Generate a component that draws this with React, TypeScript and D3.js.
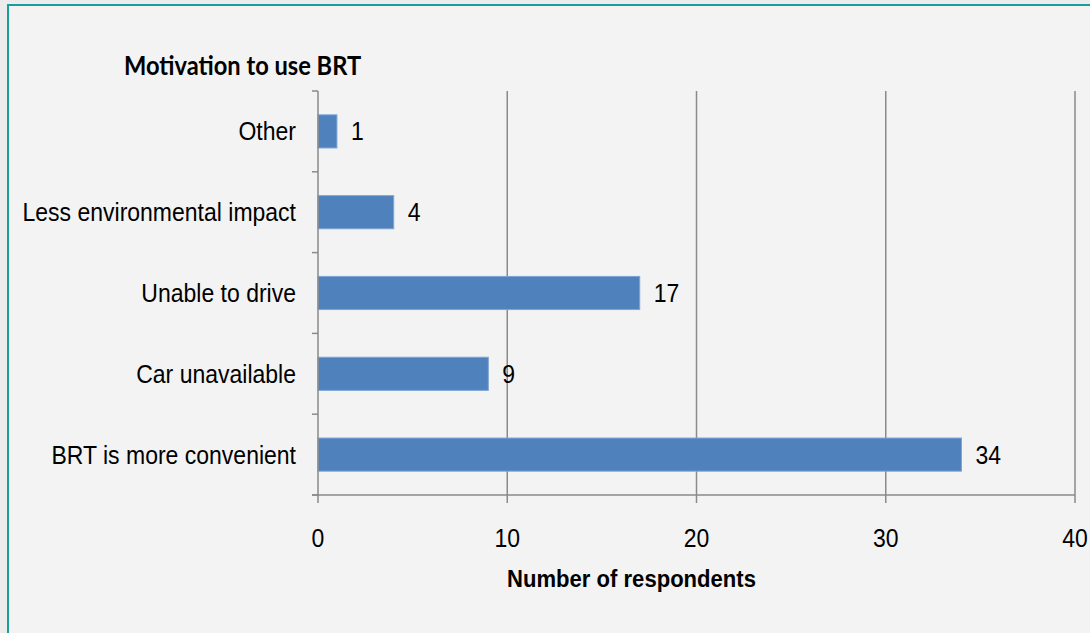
import React from "react";
import * as d3 from "d3";

const categories = ["Other", "Less environmental impact", "Unable to drive", "Car unavailable", "BRT is more convenient"];
const values = [1, 4, 17, 9, 34];
const xTicks = [0, 10, 20, 30, 40];
const chartTitle = "Motivation to use BRT";
const xTitle = "Number of respondents";

const W = 1090;
const H = 633;
const M = { left: 318, right: 1075, top: 91, bottom: 495 };

export default function App() {
  const x = d3.scaleLinear().domain([0, 40]).range([M.left, M.right]);
  const y = d3.scaleBand<string>().domain(categories).range([M.top, M.bottom]).paddingInner(0.59).paddingOuter(0.295);
  const band = (M.bottom - M.top) / categories.length;
  const boundaries = d3.range(categories.length + 1).map((i) => M.top + i * band);
  const axisColor = "#8a8a8a";
  const sx = 0.92;
  const fs = 25;
  const fontA = "'Liberation Sans', Arial, sans-serif";

  return (
    <svg width={W} height={H} style={{ position: "absolute", left: 0, top: 0, background: "#f3f3f3" }}>
      <rect x={0} y={0} width={W} height={5} fill="#ececec" />
      <rect x={0} y={0} width={7} height={H} fill="#ececec" />
      <line x1={7} x2={W} y1={5} y2={5} stroke="#1a9e9a" strokeWidth={2} />
      <line x1={8} x2={8} y1={5} y2={H} stroke="#1a9e9a" strokeWidth={2} />

      {/* gridlines */}
      {xTicks.slice(1).map((t) => (
        <line key={"g" + t} x1={x(t)} x2={x(t)} y1={M.top} y2={M.bottom} stroke={axisColor} strokeWidth={1.5} />
      ))}

      {/* bars */}
      {categories.map((c, i) => (
        <rect
          key={c}
          x={x(0)}
          y={y(c)}
          width={x(values[i]) - x(0)}
          height={y.bandwidth()}
          fill="#4f81bd"
          stroke="#7ea5d4"
          strokeWidth={1}
        />
      ))}

      {/* y axis */}
      <line x1={M.left} x2={M.left} y1={M.top} y2={M.bottom} stroke={axisColor} strokeWidth={1.5} />
      {boundaries.map((b, i) => (
        <line key={"yt" + i} x1={M.left - 6} x2={M.left} y1={b} y2={b} stroke={axisColor} strokeWidth={1.5} />
      ))}
      {/* x axis */}
      <line x1={M.left - 6} x2={M.right} y1={M.bottom} y2={M.bottom} stroke={axisColor} strokeWidth={1.5} />
      {xTicks.map((t) => (
        <line key={"xt" + t} x1={x(t)} x2={x(t)} y1={M.bottom} y2={M.bottom + 8} stroke={axisColor} strokeWidth={1.5} />
      ))}

      {/* category labels */}
      {categories.map((c) => (
        <text
          key={"l" + c}
          transform={`translate(${M.left - 22},${(y(c) as number) + y.bandwidth() / 2 + 9}) scale(${sx},1)`}
          textAnchor="end"
          fontFamily={fontA}
          fontSize={fs}
          fill="#000"
        >
          {c}
        </text>
      ))}

      {/* value labels */}
      {categories.map((c, i) => (
        <text
          key={"v" + c}
          transform={`translate(${x(values[i]) + 14},${(y(c) as number) + y.bandwidth() / 2 + 9}) scale(${sx},1)`}
          textAnchor="start"
          fontFamily={fontA}
          fontSize={fs}
          fill="#000"
        >
          {values[i]}
        </text>
      ))}

      {/* x tick labels */}
      {xTicks.map((t) => (
        <text
          key={"xl" + t}
          transform={`translate(${x(t)},${547}) scale(${sx},1)`}
          textAnchor="middle"
          fontFamily={fontA}
          fontSize={fs}
          fill="#000"
        >
          {t}
        </text>
      ))}

      {/* axis title */}
      <text
        transform={`translate(${(505 + 758) / 2},${587}) scale(0.92,1)`}
        textAnchor="middle"
        fontFamily={fontA}
        fontWeight="bold"
        fontSize={24}
        fill="#000"
      >
        {xTitle}
      </text>

      {/* chart title */}
      <text
        transform={`translate(124,75) scale(0.91,1)`}
        textAnchor="start"
        fontFamily="Lato, 'Open Sans', sans-serif"
        fontWeight="bold"
        fontSize={26}
        fill="#000"
      >
        {chartTitle}
      </text>
    </svg>
  );
}
